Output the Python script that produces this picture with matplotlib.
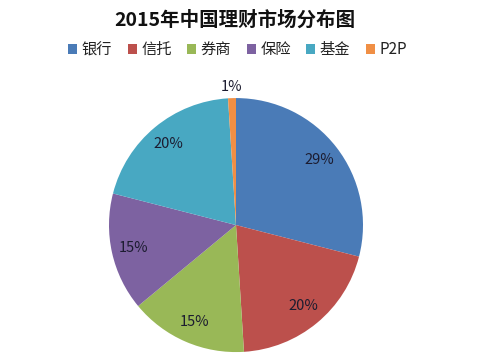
import numpy as np
import matplotlib
matplotlib.use('Agg')
import matplotlib.pyplot as plt

plt.rcParams['font.family'] = ['Noto Sans CJK SC', 'DejaVu Sans']

# data
labels = ['银行', '信托', '券商', '保险', '基金', 'P2P']
values = [29, 20, 15, 15, 20, 1]
colors = ['#4A7BB7', '#BC504C', '#99B857', '#7D62A1', '#48A8C2', '#F08F45']
title = '2015年中国理财市场分布图'

fig = plt.figure(figsize=(5, 3.6), dpi=100)
ax = fig.add_axes([0.218, 0.022, 0.508, 0.7056])

wedges, texts, autotexts = ax.pie(values, colors=colors, startangle=90,
                                  counterclock=False, autopct='%d%%',
                                  pctdistance=0.83,
                                  textprops={'fontsize': 10.5, 'color': '#1c1c30'})
ax.set_xlim(-1, 1)
ax.set_ylim(-1, 1)
ax.set_aspect('equal')

# small slice label goes outside
w = wedges[-1]
ang = np.deg2rad((w.theta1 + w.theta2) / 2)
autotexts[-1].set_position((1.08 * np.cos(ang), 1.09 * np.sin(ang)))

fig.text(0.47, 0.945, title, ha='center', va='center', fontsize=14,
         fontweight='bold', color='#111111')

fig.legend(wedges, labels, loc='center', bbox_to_anchor=(0.475, 0.862), ncol=6,
           frameon=False, fontsize=11, handlelength=0.6, handleheight=0.6,
           handletextpad=0.3, columnspacing=1.0, labelcolor='#222222')

fig.savefig('out.png', dpi=100)
